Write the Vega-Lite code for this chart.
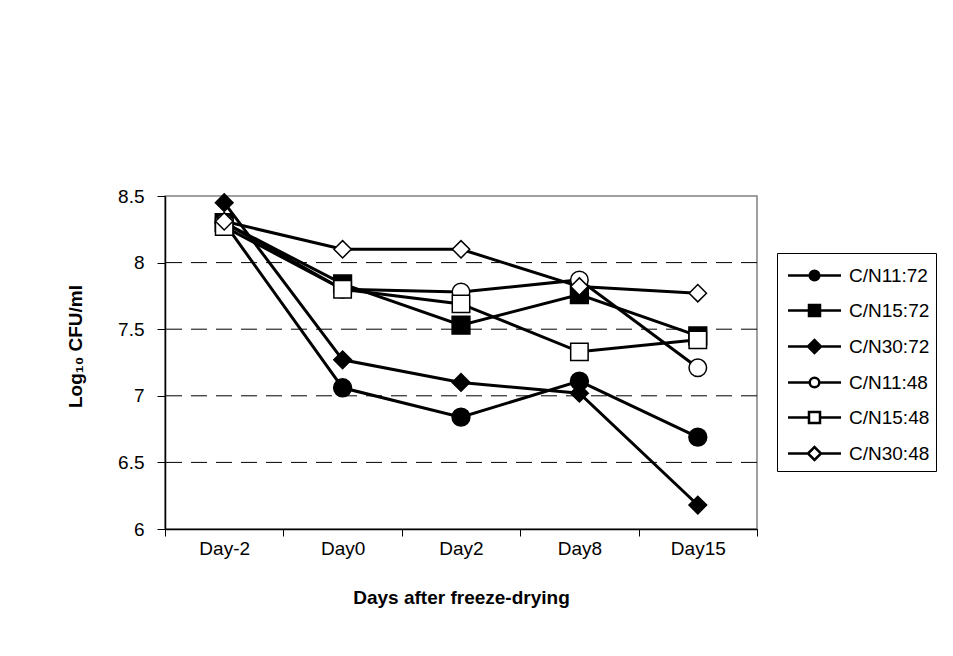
{
  "$schema": "https://vega.github.io/schema/vega-lite/v6.json",
  "width": 592,
  "height": 333,
  "autosize": "none",
  "padding": {"left": 165, "top": 196, "right": 196, "bottom": 127},
  "background": "white",
  "config": {
    "font": "Liberation Sans",
    "view": {"stroke": "#808080", "strokeWidth": 1.5},
    "axis": {
      "labelFont": "Liberation Sans",
      "titleFont": "Liberation Sans",
      "labelColor": "black",
      "titleColor": "black",
      "domainColor": "black",
      "tickColor": "black",
      "labelFontSize": 19,
      "titleFontSize": 19,
      "titleFontWeight": "bold"
    },
    "legend": {
      "labelFont": "Liberation Sans",
      "labelFontSize": 19,
      "labelColor": "black"
    }
  },
  "datasets": {
    "grid": [{"g": 6.5}, {"g": 7}, {"g": 7.5}, {"g": 8}],
    "obs": [
      {"day": "Day-2", "series": "C/N11:72", "value": 8.30},
      {"day": "Day0", "series": "C/N11:72", "value": 7.06},
      {"day": "Day2", "series": "C/N11:72", "value": 6.84},
      {"day": "Day8", "series": "C/N11:72", "value": 7.11},
      {"day": "Day15", "series": "C/N11:72", "value": 6.69},
      {"day": "Day-2", "series": "C/N15:72", "value": 8.30},
      {"day": "Day0", "series": "C/N15:72", "value": 7.84},
      {"day": "Day2", "series": "C/N15:72", "value": 7.53},
      {"day": "Day8", "series": "C/N15:72", "value": 7.76},
      {"day": "Day15", "series": "C/N15:72", "value": 7.45},
      {"day": "Day-2", "series": "C/N30:72", "value": 8.45},
      {"day": "Day0", "series": "C/N30:72", "value": 7.27},
      {"day": "Day2", "series": "C/N30:72", "value": 7.10},
      {"day": "Day8", "series": "C/N30:72", "value": 7.02},
      {"day": "Day15", "series": "C/N30:72", "value": 6.18},
      {"day": "Day-2", "series": "C/N11:48", "value": 8.30},
      {"day": "Day0", "series": "C/N11:48", "value": 7.80},
      {"day": "Day2", "series": "C/N11:48", "value": 7.78},
      {"day": "Day8", "series": "C/N11:48", "value": 7.87},
      {"day": "Day15", "series": "C/N11:48", "value": 7.21},
      {"day": "Day-2", "series": "C/N15:48", "value": 8.27},
      {"day": "Day0", "series": "C/N15:48", "value": 7.80},
      {"day": "Day2", "series": "C/N15:48", "value": 7.69},
      {"day": "Day8", "series": "C/N15:48", "value": 7.33},
      {"day": "Day15", "series": "C/N15:48", "value": 7.42},
      {"day": "Day-2", "series": "C/N30:48", "value": 8.31},
      {"day": "Day0", "series": "C/N30:48", "value": 8.10},
      {"day": "Day2", "series": "C/N30:48", "value": 8.10},
      {"day": "Day8", "series": "C/N30:48", "value": 7.82},
      {"day": "Day15", "series": "C/N30:48", "value": 7.77}
    ]
  },
  "layer": [
    {
      "data": {"name": "grid"},
      "mark": {"type": "rule", "color": "black", "strokeWidth": 1, "strokeDash": [16, 9]},
      "encoding": {
        "y": {"field": "g", "type": "quantitative", "scale": {"domain": [6, 8.5], "nice": false, "zero": false}}
      }
    },
    {
      "data": {"name": "obs"},
      "encoding": {
        "x": {
          "field": "day",
          "type": "ordinal",
          "sort": ["Day-2", "Day0", "Day2", "Day8", "Day15"],
          "scale": {"type": "band", "paddingInner": 0, "paddingOuter": 0},
          "axis": {
            "title": "Days after freeze-drying",
            "labelAngle": 0,
            "tickBand": "extent",
            "tickSize": 7,
            "labelPadding": 3,
            "titlePadding": 30,
            "domainWidth": 1.5
          }
        },
        "y": {
          "field": "value",
          "type": "quantitative",
          "scale": {"domain": [6, 8.5], "nice": false, "zero": false},
          "axis": {
            "title": "Log₁₀ CFU/ml",
            "titleY": 150,
            "values": [6, 6.5, 7, 7.5, 8, 8.5],
            "format": "~g",
            "tickSize": 8,
            "labelPadding": 13,
            "titlePadding": 32,
            "domainWidth": 1.5,
            "grid": false
          }
        }
      },
      "layer": [
        {
          "mark": {"type": "line", "color": "black", "strokeWidth": 3},
          "encoding": {
            "detail": {"field": "series", "type": "nominal"}
          }
        },
        {
          "mark": {"type": "point", "filled": true, "stroke": "black", "strokeWidth": 1.5, "opacity": 1},
          "encoding": {
            "shape": {
              "field": "series",
              "type": "nominal",
              "scale": {
                "domain": ["C/N11:72", "C/N15:72", "C/N30:72", "C/N11:48", "C/N15:48", "C/N30:48"],
                "range": ["circle", "square", "diamond", "circle", "square", "diamond"]
              },
              "legend": null
            },
            "fill": {
              "field": "series",
              "type": "nominal",
              "scale": {
                "domain": ["C/N11:72", "C/N15:72", "C/N30:72", "C/N11:48", "C/N15:48", "C/N30:48"],
                "range": ["black", "black", "black", "white", "white", "white"]
              },
              "legend": null
            },
            "size": {
              "field": "series",
              "type": "nominal",
              "scale": {
                "domain": ["C/N11:72", "C/N15:72", "C/N30:72", "C/N11:48", "C/N15:48", "C/N30:48"],
                "range": [320, 300, 420, 290, 290, 400]
              },
              "legend": null
            }
          }
        },
        {
          "mark": {"type": "point", "filled": true, "opacity": 0},
          "encoding": {
            "shape": {
              "field": "series",
              "type": "nominal",
              "scale": {
                "domain": ["C/N11:72", "C/N15:72", "C/N30:72", "C/N11:48", "C/N15:48", "C/N30:48"],
                "range": [
                  "M-0.767,0H0.68M1.32,0H2.767M0.68,0A0.32,0.32,0,1,1,1.32,0A0.32,0.32,0,1,1,0.68,0Z",
                  "M-0.767,0H0.633M1.367,0H2.767M0.633,-0.367H1.367V0.367H0.633Z",
                  "M-0.767,0H0.567M1.433,0H2.767M0.567,0L1,-0.433L1.433,0L1,0.433Z",
                  "M-0.767,0H0.68M1.32,0H2.767M0.68,0A0.32,0.32,0,1,1,1.32,0A0.32,0.32,0,1,1,0.68,0Z",
                  "M-0.767,0H0.633M1.367,0H2.767M0.633,-0.367H1.367V0.367H0.633Z",
                  "M-0.767,0H0.567M1.433,0H2.767M0.567,0L1,-0.433L1.433,0L1,0.433Z"
                ]
              },
              "legend": {
                "title": null,
                "orient": "none",
                "legendX": 612,
                "legendY": 57,
                "padding": 6,
                "fillColor": "white",
                "strokeColor": "black",
                "symbolSize": 900,
                "symbolStrokeWidth": 2.5,
                "symbolOpacity": 1,
                "labelOffset": 33,
                "rowPadding": 8
              }
            },
            "fill": {
              "field": "series",
              "type": "nominal",
              "scale": {
                "domain": ["C/N11:72", "C/N15:72", "C/N30:72", "C/N11:48", "C/N15:48", "C/N30:48"],
                "range": ["black", "black", "black", "white", "white", "white"]
              }
            },
            "stroke": {
              "field": "series",
              "type": "nominal",
              "scale": {
                "domain": ["C/N11:72", "C/N15:72", "C/N30:72", "C/N11:48", "C/N15:48", "C/N30:48"],
                "range": ["black", "black", "black", "black", "black", "black"]
              }
            }
          }
        }
      ],
      "resolve": {"scale": {"shape": "independent", "fill": "independent", "stroke": "independent"}}
    }
  ]
}
